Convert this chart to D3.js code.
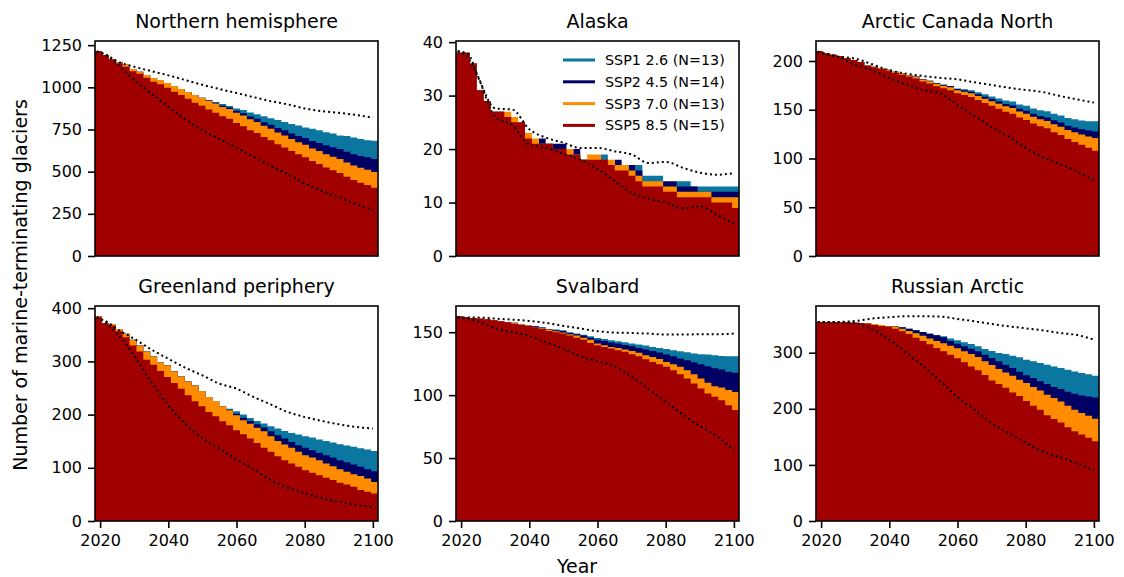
<!DOCTYPE html>
<html>
<head>
<meta charset="utf-8">
<script src="https://cdn.jsdelivr.net/npm/d3@7"></script>
<style>
  body { margin: 0; background: #fff; }
  svg { display: block; font-family: "DejaVu Sans", sans-serif; }
</style>
</head>
<body>
<script>
"use strict";

// 41 two-year steps, labelled by their first year
const binYears = d3.range(2019, 2101, 2);
// years where the dotted envelope lines were read
const dotYears = [2019, 2022, 2025, 2030, 2035, 2040, 2045, 2050, 2055, 2060, 2065, 2070, 2075, 2080, 2085, 2090, 2095, 2100];

const scenarios = ["SSP1 2.6 (N=13)", "SSP2 4.5 (N=14)", "SSP3 7.0 (N=13)", "SSP5 8.5 (N=15)"];
const scenColors = ["#0b76a0", "#000064", "#ff8c00", "#a00000"];
const xTicks = [2020, 2040, 2060, 2080, 2100];

// Northern hemisphere
const nh126 = [1214,1191,1167,1149,1134,1108,1092,1073,1055,1043,1025,1008,990,972,955,938,925,913,901,889,875,865,851,841,829,817,806,794,782,774,762,754,746,734,726,715,711,703,693,687,683];
const nh245 = [1214,1191,1167,1149,1134,1108,1092,1073,1055,1043,1025,1008,990,972,955,938,923,909,891,880,861,847,827,813,793,778,759,745,726,711,699,682,670,656,645,634,618,604,593,585,575];
const nh370 = [1214,1191,1167,1149,1134,1108,1092,1073,1055,1043,1025,1008,990,972,955,938,920,904,884,871,849,833,811,794,772,754,732,715,693,675,659,638,622,604,589,575,555,537,523,512,498];
const nh585 = [1214,1191,1167,1143,1122,1096,1080,1057,1033,1019,997,974,954,932,908,891,869,849,829,814,788,770,746,729,705,687,663,644,622,604,586,563,545,525,508,492,470,450,434,421,405];
const nhUpper = [1214,1191,1155,1122,1096,1071,1043,1015,990,966,942,918,899,875,859,849,836,820];
const nhLower = [1210,1185,1137,1043,964,885,810,746,693,642,588,535,484,430,385,348,308,273];

// Alaska
const ak126 = [38,38,36,31,29,27,27,26,25,25,22,21,21,21,20,20,19,19,18,18,18,19,17,16,16,15,17,15,15,15,12,12,14,14,13,13,13,13,13,13,13];
const ak245 = [38,38,36,31,29,27,27,26,25,25,22,21,22,21,21,21,19,20,18,18,18,18,17,18,16,17,16,13,13,13,14,14,13,13,13,12,12,12,12,12,12];
const ak370 = [38,38,36,31,29,27,27,27,26,25,23,22,21,21,20,20,20,19,18,19,19,18,18,17,17,16,15,14,14,14,13,13,12,12,12,12,12,11,11,11,11];
const ak585 = [38,38,36,31,29,27,27,26,25,25,22,21,21,21,20,20,19,19,18,18,18,18,17,16,16,15,14,13,13,13,12,12,11,11,11,11,11,10,10,10,9];
const akUpper = [38.3,37.8,33.5,27.6,27.4,23.7,22.1,21.2,20.2,20.2,19.6,19.0,17.4,17.6,16.5,15.6,15.2,15.5];
const akLower = [38.3,37.1,33.4,26.0,24.5,20.8,20.2,19.1,18.0,16.3,14.0,11.8,10.7,10.0,8.9,9.3,7.7,6.1];

// Arctic Canada North
const acn126 = [210,208,206.5,205,203,201,199,195.3,194.2,192.7,191,189,187.4,185.4,184,181.6,179.8,177.2,175.7,174.3,171.9,170.9,169.9,167.9,165.8,163.7,161.6,159.6,158.4,155.5,154,151.4,149.4,148.4,145.9,144.1,141.5,140.2,139,138.2,138.1];
const acn245 = [210,208,206.5,205,203,201,199,195.3,194.2,192.7,191,189,187.4,185.4,184,181.6,179.8,177.2,175.7,174.3,171.4,169.9,168.4,165.9,163.4,160.9,158.4,156,154.4,151,149,146,143.6,142.1,139.1,136.8,133.7,131.8,130,128.6,127.8];
const acn370 = [210,208,206.5,205,203,201,199,195.3,194.2,192.7,191,189,187.4,185.4,183.7,181.1,179.1,176.4,174.7,173.1,170.1,168.4,166.8,164.1,161.4,158.8,156.1,153.5,151.8,148.2,146,142.8,140.2,138.5,135.2,132.6,129.2,126.9,124.6,122.6,121];
const acn585 = [210,208,206.5,205,203,201,199,195,193.5,192,190,188,186,184,182,179,177,174,172,170,167,165,163,160,157,154,151,148,146,142,139.5,136,133,131,127,124,120,117,114,111,108];
const acnUpper = [209.6,206.8,204.4,202.4,196.6,190.4,187,184.6,182.6,181.2,178.1,175.4,172.6,170.2,168.2,164.1,160.7,157.3];
const acnLower = [209.6,206.5,204.4,195.9,190.7,182.2,176,170.3,166.8,154.9,143.6,132.2,122.4,111.1,101.5,94.6,86.9,78];

// Greenland periphery
const grl126 = [384.9,371.8,370.5,361.1,351.8,340.5,329.9,318.6,309.3,298,292.4,281.2,271.8,262.4,254.9,244.3,233,225.5,215.6,211.2,206.2,200,193.7,188.1,183.1,178.1,173.7,169.3,165.6,162.4,159.3,156.8,153.1,150.6,147.4,144.3,141.8,139.4,136.8,134.3,131.8];
const grl245 = [384.9,371.8,370.5,361.1,351.8,340.5,329.9,318.6,309.3,298,292.4,281.2,271.8,262.4,254.9,244.3,233,225.5,215.6,209.3,201.8,194.3,188.1,181.8,175.6,168.7,161.2,155,148.7,142.5,137.5,133.1,128.1,123.7,119.4,114.3,110.6,106.2,101.9,97.5,93.7];
const grl370 = [384.9,371.8,370.5,361.1,351.8,340.5,329.9,318.6,309.3,298,292.4,281.2,271.8,262.4,254.9,244.3,233,225.5,215.6,208,198.6,189.3,183,175.5,168.7,159.3,150.6,143.7,137.5,130,123.7,119.4,114.4,108.1,103.1,97.5,92.5,88.1,84.4,80,73.1];
const grl585 = [383,371.8,367.4,356.8,345.5,329.9,318.6,303,293.6,281.8,270.6,259.3,248.7,236.2,224.9,215.6,205,196.8,187.4,180,170.6,163.1,155,146.8,137.5,130,121.8,114.3,108.1,101.9,95.6,90.6,86.2,81.2,76.9,71.9,68.7,64.4,58.1,55,51.8];
const grlUpper = [383,374.3,360.5,342.4,322.4,304.9,288.1,273.7,258.1,248.7,233,219.3,204.9,195.5,188.1,181.8,176.8,173.7];
const grlLower = [383,371,351.8,311.1,261.2,217.4,183,155,136.2,115.6,97.5,76.9,62.5,52.5,43.1,36.2,30.6,26.2];

// Svalbard
const sv126 = [162.7,162.1,161.3,160.8,160.3,159.5,158.7,157.9,157.6,156.3,155.3,154.7,153.7,152.6,152.1,151.6,150,148.9,147.9,146.8,145.5,144.7,143.6,142.8,142,141,140.2,139.4,138.3,137.5,136.7,135.7,134.9,134.1,133,132.5,132.2,131.7,131.2,130.9,130.9];
const sv245 = [162.7,162.1,161.3,160.8,160.3,159.5,158.7,157.9,157.6,156.3,155.3,154.7,153.7,152.6,151.6,151,149.4,148.4,147.3,145.7,144.1,143.1,141.8,141,139.9,138.9,137.5,136.2,135.1,133.8,132.2,130.9,129.1,127.8,126.2,124.6,123,121.4,120.3,118.5,117.7];
const sv370 = [162.7,162.1,161.3,160.8,160.3,159.5,158.7,157.9,157.4,156.3,155.3,154.2,153.1,152.1,150.8,149.7,148.4,147.3,145.7,144.1,141,139.6,138.3,137.5,136.2,135.1,133.6,131.7,130.4,128.8,126.4,124.6,122.5,119.8,116.6,113.2,109.8,107.1,106.1,104,102.6];
const sv585 = [162.7,162.1,161.3,160.8,160.3,159.5,158.7,157.9,156.8,155.8,155,153.9,152.6,151,150,148.9,147.3,145.7,144.1,141.5,139.6,138.3,137,135.7,134.4,132.5,130.9,128.5,126.4,124.6,122.5,119.8,116.6,113.2,109.2,105.3,101.3,98.7,96,92,88.1];
const svUpper = [162.1,161.6,161.6,160.8,160,159,157.4,155,152.9,150.8,149.7,149.4,148.9,148.1,148.1,148.4,148.4,148.9];
const svLower = [161.6,160.5,158.4,153.1,150,147.1,141.8,137,131,127,123,114.5,104.7,94.7,84.6,75.4,67.4,56.3];

// Russian Arctic
const ru126 = [354.8,354.8,354.8,354.2,354.2,353.6,353,352.4,351.2,349.5,347.7,347.1,345.3,342.9,339.9,337,334,331,329.2,325.1,322.1,318.5,315.5,311.4,306.6,303,299.5,297.7,294.7,291.7,287.6,284.6,281.6,278.6,275.6,272.7,269.7,266.7,263.7,261.4,259];
const ru245 = [354.8,354.8,354.8,354.2,354.2,353.6,353,352.4,351.2,349.5,347.7,347.1,345.3,342.9,339.9,337,334,331,327.4,320.9,316.1,311.4,307.2,302.4,296.5,290.5,284.6,278.6,272.7,266.1,259.6,254.8,248.9,244.1,238.7,235.2,230.4,226.8,223.8,222.1,220.3];
const ru370 = [354.8,354.8,354.8,354.2,354.2,353.6,353,352.4,351.2,349.5,347.7,346.5,342.9,338.7,334.6,330.4,325.1,320.9,316.7,312.6,307.8,302.4,297.7,292.3,284.6,278,270.9,264.9,259,251.8,245.9,238.7,232.8,225,219.1,213.1,205.4,198.3,192.3,187.5,182.2];
const ru585 = [354.8,354.8,354.8,354.2,354.2,353.6,353,351.8,349.5,347.7,346.5,342.9,338.1,333.4,326.8,320.9,314.9,308.4,302.4,296.5,289.9,282.8,275.6,268.5,260.2,250.6,244.1,237.5,229.2,222.7,213.7,205.4,198.3,188.7,181.6,175.6,167.3,160.2,154.2,148.2,142.3];
const ruUpper = [354.8,354.8,354.8,356.6,360.8,363.2,365,365,364.3,360.2,356,351.2,347.1,343.5,339.9,335.2,331.6,323.3];
const ruLower = [354.8,354.8,354.2,353,341.1,323.3,299.5,275.6,248.9,220.9,198.3,174.4,156.6,139.9,123.8,113.7,103,89.9];

const panels = [
  { title: "Northern hemisphere", series: [nh126, nh245, nh370, nh585], upper: nhUpper, lower: nhLower, yTicks: [0, 250, 500, 750, 1000, 1250] },
  { title: "Alaska", series: [ak126, ak245, ak370, ak585], upper: akUpper, lower: akLower, yTicks: [0, 10, 20, 30, 40], legend: true },
  { title: "Arctic Canada North", series: [acn126, acn245, acn370, acn585], upper: acnUpper, lower: acnLower, yTicks: [0, 50, 100, 150, 200] },
  { title: "Greenland periphery", series: [grl126, grl245, grl370, grl585], upper: grlUpper, lower: grlLower, yTicks: [0, 100, 200, 300, 400] },
  { title: "Svalbard", series: [sv126, sv245, sv370, sv585], upper: svUpper, lower: svLower, yTicks: [0, 50, 100, 150] },
  { title: "Russian Arctic", series: [ru126, ru245, ru370, ru585], upper: ruUpper, lower: ruLower, yTicks: [0, 100, 200, 300] }
];

const size = { width: 1124, height: 577 };
const plot = { lefts: [95, 456, 816], tops: [41, 306], w: 283, h: 215 };

const svg = d3.select("body").append("svg")
  .attr("width", size.width)
  .attr("height", size.height);

const x = d3.scaleLinear().domain([2018.5, 2101.5]).range([0, plot.w]);
// steps share the axis width evenly
const binX = d3.scaleLinear().domain([0, binYears.length]).range([0, plot.w]);

panels.forEach(function(p, k) {
  const col = k % 3, row = Math.floor(k / 3);
  const g = svg.append("g")
    .attr("transform", "translate(" + plot.lefts[col] + "," + plot.tops[row] + ")");

  // matplotlib-like autoscale: 5% headroom above the data
  const top = d3.max(p.series.concat([p.upper, p.lower]), s => d3.max(s)) * 1.05;
  const y = d3.scaleLinear().domain([0, top]).range([plot.h, 0]);

  const clipId = "clip" + k;
  g.append("clipPath").attr("id", clipId)
    .append("rect").attr("width", plot.w).attr("height", plot.h);

  const body = g.append("g").attr("clip-path", "url(#" + clipId + ")");

  const area = d3.area()
    .curve(d3.curveStepAfter)
    .x((d, i) => binX(i))
    .y0(plot.h)
    .y1(d => y(d));

  // SSP1 at the back, SSP5 in front
  p.series.forEach(function(s, j) {
    body.append("path")
      .datum(s.concat([s[s.length - 1]]))
      .attr("d", area)
      .attr("fill", scenColors[j]);
  });

  const line = d3.line()
    .curve(d3.curveMonotoneX)
    .x((d, i) => x(dotYears[i]))
    .y(d => y(d));

  [p.upper, p.lower].forEach(function(s) {
    body.append("path")
      .datum(s)
      .attr("d", line)
      .attr("fill", "none")
      .attr("stroke", "#000")
      .attr("stroke-width", 2)
      .attr("stroke-dasharray", "2,3");
  });

  // y axis
  const yAxis = g.append("g")
    .call(d3.axisLeft(y).tickValues(p.yTicks).tickFormat(d3.format("d")).tickSize(7).tickPadding(6));
  yAxis.select(".domain").remove();
  yAxis.selectAll("line").attr("stroke", "#000").attr("stroke-width", 1.6);
  yAxis.selectAll("text").attr("font-size", 16).attr("fill", "#000")
    .attr("font-family", "DejaVu Sans");

  // x axis only on the lower row
  if (row === 1) {
    const xAxis = g.append("g")
      .attr("transform", "translate(0," + plot.h + ")")
      .call(d3.axisBottom(x).tickValues(xTicks).tickFormat(d3.format("d")).tickSize(7).tickPadding(7));
    xAxis.select(".domain").remove();
    xAxis.selectAll("line").attr("stroke", "#000").attr("stroke-width", 1.6);
    xAxis.selectAll("text").attr("font-size", 16).attr("fill", "#000")
      .attr("font-family", "DejaVu Sans");
  }

  g.append("rect")
    .attr("width", plot.w)
    .attr("height", plot.h)
    .attr("fill", "none")
    .attr("stroke", "#000")
    .attr("stroke-width", 1.6);

  g.append("text")
    .attr("x", plot.w / 2)
    .attr("y", -13)
    .attr("text-anchor", "middle")
    .attr("font-size", 19)
    .text(p.title);

  if (p.legend) {
    const leg = g.selectAll(".legend")
      .data(scenarios)
      .enter()
      .append("g")
      .attr("class", "legend")
      .attr("transform", (d, i) => "translate(107," + (19 + i * 21.8) + ")");
    leg.append("line")
      .attr("x1", 0).attr("x2", 32)
      .attr("stroke", (d, i) => scenColors[i])
      .attr("stroke-width", 3);
    leg.append("text")
      .attr("x", 42)
      .attr("dy", "0.35em")
      .attr("font-size", 14.3)
      .text(d => d);
  }
});

svg.append("text")
  .attr("transform", "translate(27,285) rotate(-90)")
  .attr("text-anchor", "middle")
  .attr("font-size", 19)
  .text("Number of marine-terminating glaciers");

svg.append("text")
  .attr("x", 577)
  .attr("y", 573)
  .attr("text-anchor", "middle")
  .attr("font-size", 19)
  .text("Year");
</script>
</body>
</html>
